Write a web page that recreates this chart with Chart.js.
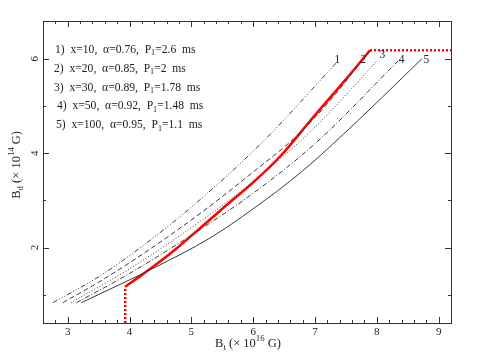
<!DOCTYPE html>
<html><head><meta charset="utf-8">
<script src="https://cdn.jsdelivr.net/npm/chart.js@4"></script>
<style>html,body{margin:0;padding:0;background:#fff}#c{display:block}</style>
</head><body>
<canvas id="c" width="485" height="363"></canvas>
<script>
// ---- data ----
const curve1X = [2.76, 3.5, 4.2, 5.2, 6.2, 7.35];
const curve1Y = [0.83, 1.38, 2.02, 3.08, 4.3, 5.92];
const curve2X = [2.92, 3.52, 4.2, 5.14, 6.0, 6.75, 7.3, 7.73];
const curve2Y = [0.83, 1.28, 1.85, 2.72, 3.6, 4.42, 5.2, 5.92];
const curve3X = [3.05, 4.0, 5.14, 6.0, 7.0, 8.0];
const curve3Y = [0.83, 1.55, 2.55, 3.4, 4.55, 5.95];
const curve4X = [3.14, 4.0, 5.14, 6.0, 7.0, 8.35];
const curve4Y = [0.83, 1.45, 2.38, 3.15, 4.2, 5.96];
const curve5X = [3.22, 4.43, 5.3, 6.0, 6.76, 7.46, 8.73];
const curve5Y = [0.83, 1.59, 2.2, 2.82, 3.58, 4.4, 6.0];
const redX = [3.93, 4.2, 4.45, 4.76, 5.15, 5.57, 6.0, 6.45, 6.97, 7.3, 7.62, 7.89];
const redY = [1.17, 1.42, 1.66, 1.98, 2.42, 2.9, 3.38, 3.95, 4.76, 5.26, 5.75, 6.18];
const redVertX = [3.93, 3.93];
const redVertY = [0.4, 1.17];
const redHorizX = [7.89, 9.2];
const redHorizY = [6.18, 6.18];

const curveNames = ["1", "2", "3", "4", "5"];
const curveLabelX = [7.36, 7.78, 8.09, 8.4, 8.8];
const curveLabelY = [5.98, 5.98, 6.07, 5.98, 5.98];

const legendNum = ["1)", "2)", "3)", "4)", "5)"];
const legendXval = ["10", "20", "30", "50", "100"];
const legendAlpha = ["0.76", "0.85", "0.89", "0.92", "0.95"];
const legendP = ["2.6", "2", "1.78", "1.48", "1.1"];

const xTicks = [3, 4, 5, 6, 7, 8, 9];
const yTicks = [2, 4, 6];
const xRange = [2.6, 9.2];
const yRange = [0.4, 6.8];

function pts(xs, ys) { return xs.map((x, i) => ({x: x, y: ys[i]})); }

const grey = '#3a3a3a';
const datasets = [
  {data: pts(curve1X, curve1Y), borderColor: grey, borderWidth: 1, borderDash: [5, 2, 1, 2, 1, 2, 1, 2]},
  {data: pts(curve2X, curve2Y), borderColor: grey, borderWidth: 1, borderDash: [5, 3]},
  {data: pts(curve3X, curve3Y), borderColor: grey, borderWidth: 1, borderDash: [1, 2]},
  {data: pts(curve4X, curve4Y), borderColor: grey, borderWidth: 1, borderDash: [5, 2, 1, 2]},
  {data: pts(curve5X, curve5Y), borderColor: grey, borderWidth: 1},
  {data: pts(redX, redY), borderColor: '#ff0000', borderWidth: 2.5},
  {data: pts(redVertX, redVertY), borderColor: '#ff0000', borderWidth: 2.5, borderDash: [2, 2], cubicInterpolationMode: 'default', tension: 0},
  {data: pts(redHorizX, redHorizY), borderColor: '#ff0000', borderWidth: 2.5, borderDash: [2, 2], cubicInterpolationMode: 'default', tension: 0}
];
datasets.forEach(d => { d.pointRadius = 0; d.fill = false; if (!d.cubicInterpolationMode) d.cubicInterpolationMode = 'monotone'; });

const FONT = 'Liberation Serif';

function drawSubSup(ctx, parts, x, y, size, align) {
  let w = 0;
  const widths = parts.map(p => {
    ctx.font = (p[1] ? size * 0.7 : size) + 'px "' + FONT + '"';
    const m = ctx.measureText(p[0]).width; w += m; return m;
  });
  let cx = align === 'center' ? x - w / 2 : x;
  parts.forEach((p, i) => {
    ctx.font = (p[1] ? size * 0.7 : size) + 'px "' + FONT + '"';
    const dy = p[1] === -1 ? size * 0.3 : (p[1] === 1 ? -size * 0.4 : 0);
    ctx.fillText(p[0], cx, y + dy);
    cx += widths[i];
  });
}

const framePlugin = {
  id: 'frame',
  afterDraw(chart) {
    const ctx = chart.ctx, a = chart.chartArea;
    const xs = chart.scales.x, ys = chart.scales.y;
    ctx.save();
    ctx.strokeStyle = '#333'; ctx.lineWidth = 1;
    ctx.strokeRect(Math.round(a.left) + 0.5, Math.round(a.top) + 0.5, Math.round(a.right - a.left), Math.round(a.bottom - a.top));
    ctx.beginPath();
    for (let v = 2.6; v <= 9.2001; v += 0.2) {
      const px = Math.round(xs.getPixelForValue(v)) + 0.5;
      const major = Math.abs(v - Math.round(v)) < 1e-6;
      const L = major ? 6 : 3;
      ctx.moveTo(px, a.bottom); ctx.lineTo(px, a.bottom - L);
      ctx.moveTo(px, a.top); ctx.lineTo(px, a.top + L);
    }
    for (let v = 1; v <= 6.8; v += 1) {
      const py = Math.round(ys.getPixelForValue(v)) + 0.5;
      const major = v % 2 === 0;
      const L = major ? 6 : 3;
      ctx.moveTo(a.left, py); ctx.lineTo(a.left + L, py);
      ctx.moveTo(a.right, py); ctx.lineTo(a.right - L, py);
    }
    ctx.stroke();

    ctx.fillStyle = '#222';
    ctx.textBaseline = 'middle';
    ctx.textAlign = 'center';
    ctx.font = '11px "' + FONT + '"';
    xTicks.forEach(v => ctx.fillText(String(v), xs.getPixelForValue(v), a.bottom + 9));
    yTicks.forEach(v => {
      ctx.save();
      ctx.translate(a.left - 8, ys.getPixelForValue(v));
      ctx.rotate(-Math.PI / 2);
      ctx.fillText(String(v), 0, 0);
      ctx.restore();
    });

    ctx.textAlign = 'left';
    drawSubSup(ctx, [["B", 0], ["t", -1], [" (\u00d7 10", 0], ["16", 1], [" G)", 0]], (a.left + a.right) / 2 + 1, a.bottom + 21, 12.5, 'center');
    ctx.save();
    ctx.translate(a.left - 26, ys.getPixelForValue(3.75));
    ctx.rotate(-Math.PI / 2);
    drawSubSup(ctx, [["B", 0], ["d", -1], [" (\u00d7 10", 0], ["14", 1], [" G)", 0]], 0, 0, 12.5, 'center');
    ctx.restore();

    ctx.font = '11.5px "' + FONT + '"';
    ctx.textAlign = 'center';
    curveNames.forEach((n, i) => ctx.fillText(n, xs.getPixelForValue(curveLabelX[i]), ys.getPixelForValue(curveLabelY[i])));

    const rowY = [49.5, 68.5, 87.5, 106, 125];
    const rowX = [55, 54, 54, 57, 56];
    ctx.textAlign = 'left';
    legendNum.forEach((n, i) => {
      drawSubSup(ctx, [[n + "  x=" + legendXval[i] + ",  \u03b1=" + legendAlpha[i] + ",  P", 0], ["1", -1], ["=" + legendP[i] + "  ms", 0]], rowX[i], rowY[i], 11.6, 'left');
    });
    ctx.restore();
  }
};

new Chart(document.getElementById('c'), {
  type: 'line',
  data: {datasets: datasets},
  options: {
    responsive: false,
    animation: false,
    layout: {padding: {left: 43, right: 34, top: 21, bottom: 40}},
    plugins: {legend: {display: false}, tooltip: {enabled: false}},
    scales: {
      x: {type: 'linear', min: xRange[0], max: xRange[1], display: false},
      y: {type: 'linear', min: yRange[0], max: yRange[1], display: false}
    }
  },
  plugins: [framePlugin]
});
</script>
</body></html>
